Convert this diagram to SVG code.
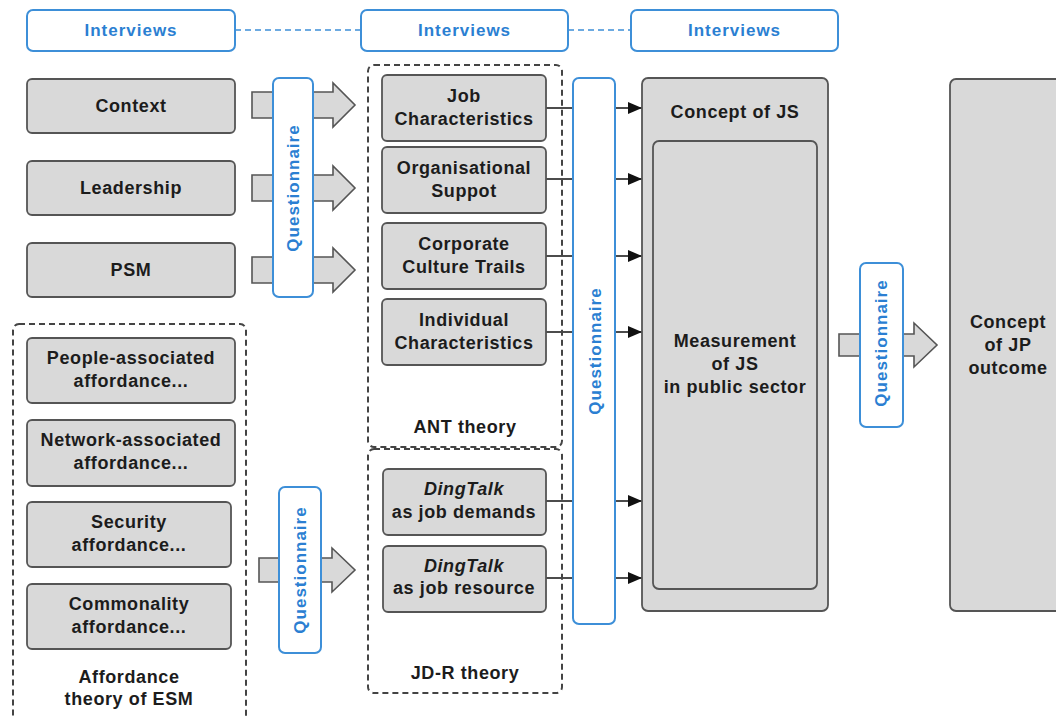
<svg xmlns="http://www.w3.org/2000/svg" width="1056" height="717" viewBox="0 0 1056 717">
  <style>
    .node { fill: #d9d9d9; stroke: #555; stroke-width: 1.8; }
    .inner { fill: #d9d9d9; stroke: #555; stroke-width: 1.8; }
    .qbox { fill: #fff; stroke: #3d8fd8; stroke-width: 2; }
    .group { fill: none; stroke: #444; stroke-width: 2; stroke-dasharray: 6 4; }
    .block { fill: #d9d9d9; stroke: #555; stroke-width: 1.6; }
    .link { fill: none; stroke: #111; stroke-width: 1.6; }
    .dash { fill: none; stroke: #3d8fd8; stroke-width: 1.6; stroke-dasharray: 6 4; }
    .t { font-family: "Liberation Sans", Arial, sans-serif; font-size: 18px; font-weight: bold; fill: #1c1c1c; text-anchor: middle; letter-spacing: 0.6px; }
    .b { font-family: "Liberation Sans", Arial, sans-serif; font-size: 17px; font-weight: bold; fill: #2b7fd2; text-anchor: middle; letter-spacing: 1px; }
    .it { font-style: italic; }
  </style>
  <defs>
    <marker id="arrow" markerWidth="14" markerHeight="12" refX="14" refY="6" orient="auto" markerUnits="userSpaceOnUse">
      <path d="M0,0 L14,6 L0,12 Z" fill="#111"/>
    </marker>
  </defs>

  <rect width="1056" height="717" fill="#fff"/>

  <!-- connectors -->
  <g id="connectors">
    <line class="dash" x1="235" y1="30" x2="361" y2="30"/>
    <line class="dash" x1="568" y1="30" x2="631" y2="30"/>

    <!-- block arrows -->
    <path class="block" d="M252,92 H333 V83 L355,105 L333,127 V118 H252 Z"/>
    <path class="block" d="M252,175 H333 V166 L355,188 L333,210 V201 H252 Z"/>
    <path class="block" d="M252,257 H333 V248 L355,270 L333,292 V283 H252 Z"/>
    <path class="block" d="M259,558 H332 V548 L355,570 L332,592 V582 H259 Z"/>
    <path class="block" d="M839,334 H914 V323 L937,345 L914,367 V356 H839 Z"/>

    <!-- factor links into Concept of JS -->
    <line class="link" x1="546" y1="108" x2="642" y2="108" marker-end="url(#arrow)"/>
    <line class="link" x1="546" y1="179" x2="642" y2="179" marker-end="url(#arrow)"/>
    <line class="link" x1="546" y1="256" x2="642" y2="256" marker-end="url(#arrow)"/>
    <line class="link" x1="546" y1="332" x2="642" y2="332" marker-end="url(#arrow)"/>
    <line class="link" x1="546" y1="501" x2="642" y2="501" marker-end="url(#arrow)"/>
    <line class="link" x1="546" y1="578" x2="642" y2="578" marker-end="url(#arrow)"/>
  </g>

  <!-- interview headers -->
  <g id="interviews-1">
    <rect class="qbox" x="27" y="10" width="208" height="41" rx="6"/>
    <text class="b" x="131" y="36">Interviews</text>
  </g>
  <g id="interviews-2">
    <rect class="qbox" x="361" y="10" width="207" height="41" rx="6"/>
    <text class="b" x="464.5" y="36">Interviews</text>
  </g>
  <g id="interviews-3">
    <rect class="qbox" x="631" y="10" width="207" height="41" rx="6"/>
    <text class="b" x="734.5" y="36">Interviews</text>
  </g>

  <!-- left inputs -->
  <g id="context">
    <rect class="node" x="27" y="79" width="208" height="54" rx="5"/>
    <text class="t" x="131" y="112">Context</text>
  </g>
  <g id="leadership">
    <rect class="node" x="27" y="161" width="208" height="54" rx="5"/>
    <text class="t" x="131" y="194">Leadership</text>
  </g>
  <g id="psm">
    <rect class="node" x="27" y="243" width="208" height="54" rx="5"/>
    <text class="t" x="131" y="276">PSM</text>
  </g>

  <!-- affordance theory group -->
  <g id="affordance-group">
    <rect class="group" x="13" y="324" width="233" height="430" rx="6"/>
    <text class="t" x="129" y="683">Affordance</text>
    <text class="t" x="129" y="705">theory of ESM</text>
  </g>
  <g id="people-affordance">
    <rect class="node" x="27" y="338" width="208" height="65" rx="5"/>
    <text class="t" x="131" y="364">People-associated</text>
    <text class="t" x="131" y="387">affordance...</text>
  </g>
  <g id="network-affordance">
    <rect class="node" x="27" y="420" width="208" height="66" rx="5"/>
    <text class="t" x="131" y="446">Network-associated</text>
    <text class="t" x="131" y="469">affordance...</text>
  </g>
  <g id="security-affordance">
    <rect class="node" x="27" y="502" width="204" height="65" rx="5"/>
    <text class="t" x="129" y="528">Security</text>
    <text class="t" x="129" y="551">affordance...</text>
  </g>
  <g id="commonality-affordance">
    <rect class="node" x="27" y="584" width="204" height="65" rx="5"/>
    <text class="t" x="129" y="610">Commonality</text>
    <text class="t" x="129" y="633">affordance...</text>
  </g>

  <!-- questionnaire bridges -->
  <g id="questionnaire-1">
    <rect class="qbox" x="273" y="78" width="40" height="219" rx="6"/>
    <text class="b" transform="translate(299,188) rotate(-90)">Questionnaire</text>
  </g>
  <g id="questionnaire-4">
    <rect class="qbox" x="279" y="487" width="42" height="166" rx="6"/>
    <text class="b" transform="translate(306,570) rotate(-90)">Questionnaire</text>
  </g>

  <!-- ANT theory group -->
  <g id="ant-group">
    <rect class="group" x="368" y="65" width="194" height="382" rx="6"/>
    <text class="t" x="465" y="433">ANT theory</text>
  </g>
  <g id="job-characteristics">
    <rect class="node" x="382" y="75" width="164" height="66" rx="5"/>
    <text class="t" x="464" y="102">Job</text>
    <text class="t" x="464" y="125">Characteristics</text>
  </g>
  <g id="organisational-support">
    <rect class="node" x="382" y="147" width="164" height="66" rx="5"/>
    <text class="t" x="464" y="174">Organisational</text>
    <text class="t" x="464" y="197">Suppot</text>
  </g>
  <g id="corporate-culture">
    <rect class="node" x="382" y="223" width="164" height="66" rx="5"/>
    <text class="t" x="464" y="250">Corporate</text>
    <text class="t" x="464" y="273">Culture Trails</text>
  </g>
  <g id="individual-characteristics">
    <rect class="node" x="382" y="299" width="164" height="66" rx="5"/>
    <text class="t" x="464" y="326">Individual</text>
    <text class="t" x="464" y="349">Characteristics</text>
  </g>

  <!-- JD-R theory group -->
  <g id="jdr-group">
    <rect class="group" x="368" y="449" width="194" height="244" rx="6"/>
    <text class="t" x="465" y="679">JD-R theory</text>
  </g>
  <g id="dingtalk-demands">
    <rect class="node" x="383" y="469" width="163" height="66" rx="5"/>
    <text class="t it" x="464" y="495">DingTalk</text>
    <text class="t" x="464" y="518">as job demands</text>
  </g>
  <g id="dingtalk-resource">
    <rect class="node" x="383" y="546" width="163" height="66" rx="5"/>
    <text class="t it" x="464" y="572">DingTalk</text>
    <text class="t" x="464" y="594">as job resource</text>
  </g>

  <g id="questionnaire-2">
    <rect class="qbox" x="573" y="78" width="42" height="546" rx="6"/>
    <text class="b" transform="translate(601,351) rotate(-90)">Questionnaire</text>
  </g>

  <!-- job satisfaction -->
  <g id="concept-js">
    <rect class="node" x="642" y="78" width="186" height="533" rx="6"/>
    <text class="t" x="735" y="118">Concept of JS</text>
  </g>
  <g id="measurement-js">
    <rect class="inner" x="653" y="141" width="164" height="448" rx="6"/>
    <text class="t" x="735" y="347">Measurement</text>
    <text class="t" x="735" y="370">of JS</text>
    <text class="t" x="735" y="393">in public sector</text>
  </g>

  <g id="questionnaire-3">
    <rect class="qbox" x="860" y="263" width="43" height="164" rx="6"/>
    <text class="b" transform="translate(887,343) rotate(-90)">Questionnaire</text>
  </g>

  <!-- job performance -->
  <g id="concept-jp">
    <rect class="node" x="950" y="79" width="120" height="532" rx="6"/>
    <text class="t" x="1008" y="328">Concept</text>
    <text class="t" x="1008" y="351">of JP</text>
    <text class="t" x="1008" y="374">outcome</text>
  </g>
</svg>
